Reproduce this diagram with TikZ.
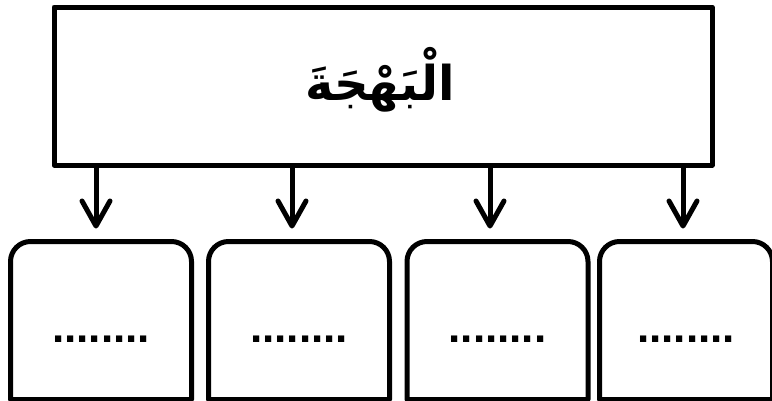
\documentclass[tikz,border=0pt]{standalone}
\usepackage{fontspec}
\setmainfont{Liberation Sans}
\newfontfamily\arabicfont[Script=Arabic]{DejaVu Sans}
\TeXXeTstate=1
\usetikzlibrary{arrows.meta}
\begin{document}
\begin{tikzpicture}[x=1pt,y=-1pt,
  line width=5pt,
  topbox/.style={draw, line join=round, minimum width=658pt, minimum height=158pt, inner sep=0pt},
  subbox/.style={minimum width=176pt, minimum height=153pt, inner sep=0pt},
  link/.style={-{Straight Barb[length=25pt,width=28pt,line cap=round,line join=round]}, shorten >=13pt},
  dots/.style={font=\bfseries\fontsize{44}{50}\selectfont}]
\useasboundingbox (0,0) rectangle (772,400);
\node[topbox] (top) at (383,86) {};
\node[font=\arabicfont\bfseries\fontsize{48}{56}\selectfont] (title) at (380,80) {\beginR الْبَهْجَةَ\endR};
\node[subbox] (b1) at (101,320.5) {};
\node[subbox] (b2) at (299,320.5) {};
\node[subbox] (b3) at (497.5,320.5) {};
\node[subbox, minimum width=168pt] (b4) at (686,320.5) {};
\foreach \b in {b1,b2,b3,b4}{
  \draw[line join=round] (\b.south west) -- ([yshift=-20pt]\b.north west)
    arc[start angle=180,end angle=90,radius=20pt] -- ([xshift=-20pt]\b.north east)
    arc[start angle=90,end angle=0,radius=20pt] -- (\b.south east) -- cycle;
  \node[dots, anchor=base] at ([yshift=-22pt]\b.center) {........};
}
\coordinate (a1) at (96,165);
\coordinate (a2) at (292,165);
\coordinate (a3) at (490,165);
\coordinate (a4) at (683,165);
\draw[link] (a1) -- (a1 |- b1.north);
\draw[link] (a2) -- (a2 |- b2.north);
\draw[link] (a3) -- (a3 |- b3.north);
\draw[link] (a4) -- (a4 |- b4.north);
\end{tikzpicture}
\end{document}
